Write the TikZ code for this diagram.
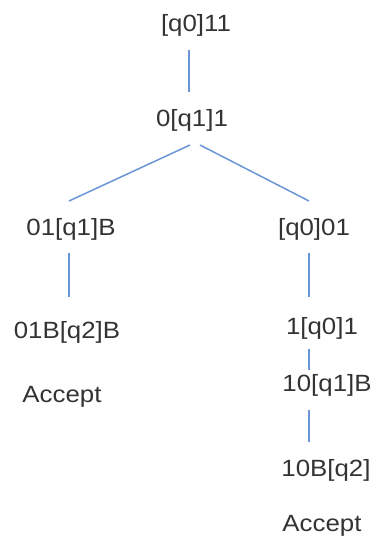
\documentclass[tikz,border=0pt]{standalone}
\usepackage{fontspec}
\setmainfont[FakeStretch=1.1]{Liberation Sans}
\usetikzlibrary{calc}
\definecolor{txt}{HTML}{333333}
\definecolor{edge}{HTML}{6A95D6}
\begin{document}
\begin{tikzpicture}[x=1pt,y=-1pt,
  cfg/.style={inner sep=0pt,text depth=0pt,text=txt,font=\fontsize{23.5}{26}\selectfont},
  link/.style={draw=edge,line width=1.5pt}]
\useasboundingbox (0,0) rectangle (374,536);
\node[cfg] (a) at (196,23) {[q0]11};
\node[cfg] (b) at (192,118) {0[q1]1};
\node[cfg] (c) at (71,227) {01[q1]B};
\node[cfg] (d) at (314,227) {[q0]01};
\node[cfg] (e) at (67,330) {01B[q2]B};
\node[cfg] (acl) at (62,394) {Accept};
\node[cfg] (f) at (322,326) {1[q0]1};
\node[cfg] (g) at (327,383) {10[q1]B};
\node[cfg] (h) at (326,468) {10B[q2]};
\node[cfg] (acr) at (322,523) {Accept};
\draw[link] ($(a)+(-7,27)$) -- ($(b)+(-3,-26)$);
\draw[link] ($(b)+(-2,27)$) -- ($(c)+(-2,-26)$);
\draw[link] ($(b)+(8,27)$) -- ($(d)+(-5,-26)$);
\draw[link] ($(c)+(-2,26)$) -- ($(e)+(2,-33)$);
\draw[link] ($(d)+(-5,26)$) -- ($(f)+(-13,-29)$);
\draw[link] ($(f)+(-13,23)$) -- ($(g)+(-18,-13)$);
\draw[link] ($(g)+(-18,27)$) -- ($(h)+(-17,-26)$);
\end{tikzpicture}
\end{document}
